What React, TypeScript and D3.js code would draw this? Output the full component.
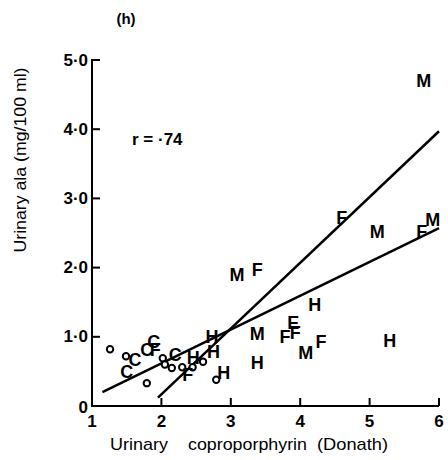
import React from "react";
import * as d3 from "d3";

// Urinary coproporphyrin (Donath) vs urinary ALA (mg/100 ml), grouped by letter code
const letterPoints: { code: string; cp: number; ala: number }[] = [
  { code: "C", cp: 1.5, ala: 0.49 },
  { code: "C", cp: 1.62, ala: 0.66 },
  { code: "C", cp: 1.79, ala: 0.81 },
  { code: "C", cp: 1.89, ala: 0.92 },
  { code: "C", cp: 2.2, ala: 0.74 },
  { code: "F", cp: 1.91, ala: 0.81 },
  { code: "F", cp: 2.38, ala: 0.45 },
  { code: "F", cp: 3.38, ala: 1.97 },
  { code: "F", cp: 3.78, ala: 1.0 },
  { code: "F", cp: 3.93, ala: 1.05 },
  { code: "F", cp: 4.3, ala: 0.92 },
  { code: "F", cp: 4.6, ala: 2.72 },
  { code: "F", cp: 5.75, ala: 2.51 },
  { code: "H", cp: 2.46, ala: 0.69 },
  { code: "H", cp: 2.73, ala: 0.99 },
  { code: "H", cp: 2.75, ala: 0.78 },
  { code: "H", cp: 2.9, ala: 0.48 },
  { code: "H", cp: 3.38, ala: 0.62 },
  { code: "H", cp: 4.21, ala: 1.46 },
  { code: "H", cp: 5.29, ala: 0.94 },
  { code: "M", cp: 3.09, ala: 1.89 },
  { code: "M", cp: 3.38, ala: 1.04 },
  { code: "M", cp: 4.08, ala: 0.77 },
  { code: "M", cp: 5.11, ala: 2.51 },
  { code: "M", cp: 5.91, ala: 2.69 },
  { code: "M", cp: 5.78, ala: 4.7 },
  { code: "E", cp: 3.9, ala: 1.2 },
];

// Controls drawn as open circles
const circleCp = [1.26, 1.49, 1.79, 2.02, 2.05, 2.15, 2.3, 2.45, 2.6, 2.79];
const circleAla = [0.82, 0.72, 0.33, 0.69, 0.6, 0.55, 0.56, 0.56, 0.64, 0.38];

// Two fitted regression lines (end points)
const steepLine: [number, number][] = [
  [1.95, 0.12],
  [6, 3.97],
];
const shallowLine: [number, number][] = [
  [1.15, 0.2],
  [6, 2.57],
];

const xTicks = [1, 2, 3, 4, 5, 6];
const xTickLabels = ["1", "2", "3", "4", "5", "6"];
const yTicks = [0, 1, 2, 3, 4, 5];
const yTickLabels = ["0", "1·0", "2·0", "3·0", "4·0", "5·0"];

const panelLabel = "(h)";
const corrLabel = "r = ·74";
const xTitleWords = ["Urinary", "coproporphyrin", "(Donath)"];
const yTitle = "Urinary ala (mg/100 ml)";

export default function App() {
  const W = 448;
  const H = 460;
  const x = d3.scaleLinear().domain([1, 6]).range([92, 439]);
  const y = d3.scaleLinear().domain([0, 5]).range([406, 60]);
  const line = d3
    .line<[number, number]>()
    .x((d) => x(d[0]))
    .y((d) => y(d[1]));

  const font = "'Liberation Sans', Arial, sans-serif";
  // start x and width of each word in the x-axis title
  const xWordStart = [110, 188, 317];
  const xWordLen = [58, 119, 71];

  return (
    <div style={{ position: "absolute", left: 0, top: 0 }}>
      <svg width={W} height={H} style={{ display: "block", background: "#fff" }}>
        <rect width={W} height={H} fill="#fff" />
        <g fontFamily={font} fill="#000">
          <text x={126} y={18} fontSize={15} fontWeight="bold" textAnchor="middle" dominantBaseline="central">
            {panelLabel}
          </text>

          {/* axes */}
          <path
            d={`M${x(1) + 8},${y(5)}H${x(1)}V${y(0)}H${x(6)}`}
            fill="none"
            stroke="#000"
            strokeWidth={2}
          />
          {yTicks.slice(1, 5).map((t) => (
            <line key={"yt" + t} x1={x(1)} x2={x(1) + 8} y1={y(t)} y2={y(t)} stroke="#000" strokeWidth={2} />
          ))}
          {xTicks.slice(1).map((t) => (
            <line key={"xt" + t} x1={x(t)} x2={x(t)} y1={y(0)} y2={y(0) - 8} stroke="#000" strokeWidth={2} />
          ))}
          {yTicks.map((t, i) => (
            <text
              key={"yl" + t}
              x={x(1) - 4}
              y={y(t) + (i === 0 ? 1 : 0)}
              fontSize={17}
              fontWeight="bold"
              textAnchor="end"
              dominantBaseline="central"
            >
              {yTickLabels[i]}
            </text>
          ))}
          {xTicks.map((t, i) => (
            <text key={"xl" + t} x={x(t)} y={421} fontSize={17} fontWeight="bold" textAnchor="middle" dominantBaseline="central">
              {xTickLabels[i]}
            </text>
          ))}

          {xTitleWords.map((w, i) => (
            <text
              key={"xw" + i}
              x={xWordStart[i]}
              y={444}
              fontSize={17}
              textLength={xWordLen[i]}
              lengthAdjust="spacingAndGlyphs"
              dominantBaseline="central"
            >
              {w}
            </text>
          ))}
          <text
            transform={`translate(20,160) rotate(-90)`}
            fontSize={17}
            textAnchor="middle"
            dominantBaseline="central"
            textLength={185}
            lengthAdjust="spacingAndGlyphs"
          >
            {yTitle}
          </text>

          <text x={132} y={139} fontSize={17} fontWeight="bold" dominantBaseline="central">
            {corrLabel}
          </text>

          {/* regression lines */}
          <path d={line(steepLine) || ""} fill="none" stroke="#000" strokeWidth={2.5} />
          <path d={line(shallowLine) || ""} fill="none" stroke="#000" strokeWidth={2.5} />

          {/* open-circle points */}
          {circleCp.map((cp, i) => (
            <circle key={"c" + i} cx={x(cp)} cy={y(circleAla[i])} r={3.2} fill="#fff" stroke="#000" strokeWidth={2} />
          ))}

          {/* lettered points */}
          {letterPoints.map((p, i) => (
            <text
              key={"p" + i}
              x={x(p.cp)}
              y={y(p.ala)}
              fontSize={18}
              fontWeight="bold"
              textAnchor="middle"
              dominantBaseline="central"
            >
              {p.code}
            </text>
          ))}
        </g>
      </svg>
    </div>
  );
}
